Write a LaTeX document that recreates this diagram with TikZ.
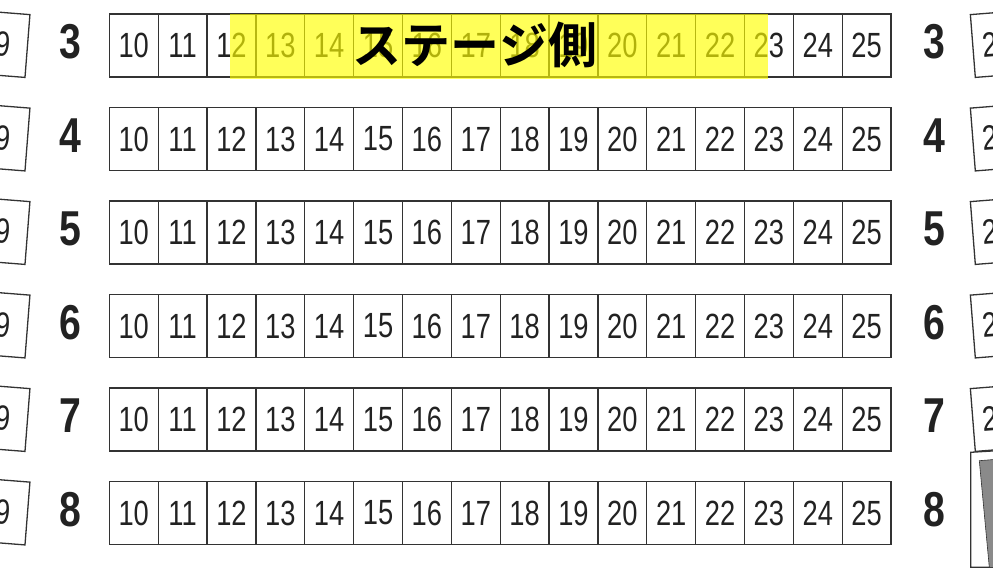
\documentclass[tikz,border=0pt]{standalone}
\usepackage{fontspec}
\setmainfont{Liberation Sans}
\newfontfamily\seatfont{Liberation Sans}[FakeStretch=0.78]
\newfontfamily\rowfont{Liberation Sans Bold}[FakeStretch=0.8]
\newfontfamily\cjkfont{Noto Sans CJK JP Bold}
\definecolor{linec}{HTML}{333333}
\definecolor{numc}{HTML}{222222}
\definecolor{grayblock}{HTML}{8A8A8A}
\definecolor{hl}{HTML}{FFFF00}
\begin{document}
\begin{tikzpicture}[x=1pt,y=-1pt,
  seatbox/.style={draw=linec, line width=1.3pt, fill=white, inner sep=0pt,
    minimum width=48.86pt, minimum height=63pt, text=numc,
    font=\seatfont\fontsize{35}{35}\selectfont},
  rowlabel/.style={font=\rowfont\fontsize{49}{49}\selectfont, text=numc, anchor=base, inner sep=0pt}]
\useasboundingbox (0,0) rectangle (993,570);
\clip (0,0) rectangle (993,570);
\foreach \r [count=\i from 0] in {3,...,8} {
  \pgfmathsetmacro\rtop{14+93.5*\i}
  \foreach \s [count=\j from 0] in {10,...,25} {
    \node[seatbox] (s\r-\s) at ({109.3+48.86*(\j+0.5)},{\rtop+31.5}) {\s};
  }
  \node[rowlabel] (rl\r) at (70,{\rtop+44.5}) {\r};
  \node[rowlabel] (rr\r) at (934,{\rtop+44.5}) {\r};
  \node[seatbox, rotate=-4.5] (ls\r) at (3.1,{\rtop+30.1}) {9};
}
\foreach \r [count=\i from 0] in {3,...,7} {
  \pgfmathsetmacro\rtop{14+93.5*\i}
  \node[seatbox, rotate=4.5] (rs\r) at (997.2,{\rtop+30.1}) {26};
}
% lower right block
\filldraw[draw=linec, line width=1.3pt, fill=white]
  (970.7,452.3) -- (1000,450.5) -- (1000,567.3) -- (970.7,567.3) -- cycle;
\filldraw[draw=linec, line width=0.6pt, fill=grayblock]
  (979.3,460.7) -- (1000,459) -- (1000,567.3) -- (989.3,567.3) -- cycle;
% stage highlight
\fill[hl, opacity=0.65] (230,14) rectangle (767.5,79);
\node[font=\cjkfont\fontsize{49}{49}\selectfont, text=black, inner sep=0pt] (stage) at (475,44.5) {ステージ側};
\end{tikzpicture}
\end{document}
